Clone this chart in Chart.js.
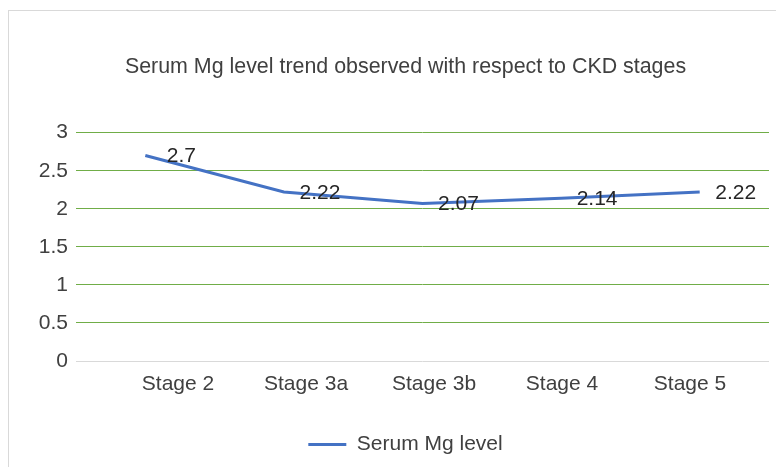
<!DOCTYPE html>
<html>
<head>
<meta charset="utf-8">
<script src="https://cdn.jsdelivr.net/npm/chart.js@4/dist/chart.umd.min.js"></script>
<style>
  html, body { margin: 0; padding: 0; background: #ffffff; }
  #frame { position: absolute; left: 8px; top: 10px; width: 800px; height: 500px; border: 1px solid #d9d9d9; box-sizing: border-box; }
  #wrap { position: absolute; left: 0; top: 0; width: 776px; height: 467px; }
</style>
</head>
<body>
<div id="frame"></div>
<div id="wrap"><canvas id="c" width="776" height="467"></canvas></div>
<script>
const categories = ["Stage 2", "Stage 3a", "Stage 3b", "Stage 4", "Stage 5"];
const serumMg = [2.7, 2.22, 2.07, 2.14, 2.22];
const yTicks = [0, 0.5, 1, 1.5, 2, 2.5, 3];
const seriesName = "Serum Mg level";
const chartTitle = "Serum Mg level trend observed with respect to CKD stages";

const FONT = "'Liberation Sans', Arial, sans-serif";
const TEXT = "#404040";

const valueLabels = {
  id: 'valueLabels',
  afterDatasetsDraw(chart) {
    const ctx = chart.ctx;
    const meta = chart.getDatasetMeta(0);
    ctx.save();
    ctx.font = "21px " + FONT;
    ctx.fillStyle = "#262626";
    ctx.textAlign = "center";
    ctx.textBaseline = "middle";
    meta.data.forEach((pt, i) => {
      ctx.fillText(String(chart.data.datasets[0].data[i]), pt.x + 36, pt.y + 1);
    });
    ctx.restore();
  }
};

// the original frame is wider than the visible picture: centre title/legend on it
const shiftBoxes = {
  id: 'shiftBoxes',
  afterLayout(chart) {
    [chart.titleBlock, chart.legend].forEach(b => {
      if (b) { b.left += 21; b.right += 21; }
    });
  }
};

new Chart(document.getElementById('c'), {
  type: 'line',
  data: {
    labels: categories,
    datasets: [{
      label: seriesName,
      data: serumMg,
      xAxisID: 'x',
      yAxisID: 'y',
      borderColor: '#4472C4',
      backgroundColor: '#4472C4',
      borderWidth: 3,
      pointRadius: 0,
      pointHoverRadius: 0,
      tension: 0,
      fill: false
    }]
  },
  options: {
    responsive: false,
    animation: false,
    layout: { padding: { left: 0, right: 7, top: 0, bottom: 2 } },
    plugins: {
      title: {
        display: true,
        text: chartTitle,
        color: TEXT,
        font: { family: FONT, size: 21.4, weight: 'normal' },
        padding: { top: 54, bottom: 53 }
      },
      legend: {
        position: 'bottom',
        labels: {
          color: TEXT,
          font: { family: FONT, size: 21 },
          usePointStyle: true,
          pointStyle: 'line',
          pointStyleWidth: 38,
          boxHeight: 21,
          padding: 10
        }
      },
      tooltip: { enabled: false }
    },
    scales: {
      x: {
        type: 'category',
        offset: true,
        position: 'bottom',
        grid: { display: false, drawTicks: false },
        border: { display: false },
        ticks: { display: false },
        afterFit(scale) { scale.height = 0; }
      },
      xLabels: {
        type: 'linear',
        position: 'bottom',
        min: -0.797,
        max: 4.617,
        grid: { display: false, drawTicks: false },
        border: { display: false },
        afterBuildTicks(scale) { scale.ticks = categories.map((c, i) => ({ value: i })); },
        ticks: {
          autoSkip: false, maxRotation: 0, padding: 11,
          color: TEXT, font: { family: FONT, size: 21 },
          callback: (v) => categories[v]
        },
        afterFit(scale) { scale.height = 63; }
      },
      y: {
        min: 0, max: 3,
        afterBuildTicks(scale) { scale.ticks = yTicks.map(v => ({ value: v })); },
        ticks: {
          color: TEXT, font: { family: FONT, size: 21 }, padding: 8,
          callback: (v) => String(v)
        },
        grid: {
          drawTicks: false,
          color: (c) => c.tick && c.tick.value === 0 ? '#d9d9d9' : '#70AD47',
          lineWidth: 1
        },
        border: { display: false },
        afterFit(scale) { scale.width = 76; }
      }
    }
  },
  plugins: [valueLabels, shiftBoxes]
});
</script>
</body>
</html>
